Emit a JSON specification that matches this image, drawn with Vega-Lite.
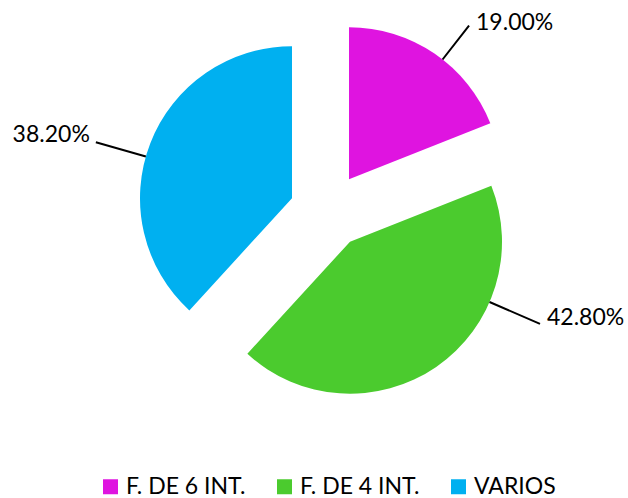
{
  "$schema": "https://vega.github.io/schema/vega-lite/v6.json",
  "width": 628,
  "height": 498,
  "autosize": {"type": "none"},
  "padding": 0,
  "background": "white",
  "config": {"view": {"stroke": null}, "text": {"font": "Lato", "fontSize": 23, "color": "black"}},
  "data": {"values": [
    {"cat": "F. DE 6 INT.", "value": 19.0, "label": "19.00%", "order": 1},
    {"cat": "F. DE 4 INT.", "value": 42.8, "label": "42.80%", "order": 2},
    {"cat": "VARIOS", "value": 38.2, "label": "38.20%", "order": 3}
  ]},
  "transform": [
    {"stack": "value", "groupby": [], "sort": [{"field": "order", "order": "ascending"}], "as": ["v0", "v1"]}
  ],
  "layer": [
    {
      "transform": [{"filter": "datum.cat === 'F. DE 6 INT.'"}],
      "mark": {"type": "arc", "radius": 152, "xOffset": 35, "yOffset": -69.7},
      "encoding": {
        "theta": {"field": "v0", "type": "quantitative", "scale": {"domain": [0, 100]}},
        "theta2": {"field": "v1"},
        "color": {"field": "cat", "type": "nominal",
          "scale": {"domain": ["F. DE 6 INT.", "F. DE 4 INT.", "VARIOS"], "range": ["#DF14E0", "#4BCB2E", "#00B0F0"]},
          "legend": {"orient": "none", "direction": "horizontal", "legendX": 99, "legendY": 475, "title": null,
            "symbolType": "square", "symbolSize": 225, "symbolStrokeWidth": 0, "labelFont": "Lato", "labelFontSize": 23,
            "labelColor": "black", "labelOffset": 4, "columnPadding": 27, "padding": 0}}
      }
    },
    {
      "transform": [{"filter": "datum.cat === 'F. DE 6 INT.'"}],
      "mark": {"type": "arc", "radius": 195, "radius2": 152, "thetaOffset": 0.663, "theta2Offset": 0.663, "filled": false, "color": "black", "strokeWidth": 2, "xOffset": 35, "yOffset": -69.7},
      "encoding": {
        "theta": {"field": "v0", "type": "quantitative"},
        "theta2": {"field": "v0"}
      }
    },
    {
      "transform": [{"filter": "datum.cat === 'F. DE 6 INT.'"}],
      "mark": {"type": "text", "radius": 195, "thetaOffset": 0.663, "align": "left", "baseline": "alphabetic", "dx": 7, "dy": 4, "xOffset": 35, "yOffset": -69.7},
      "encoding": {
        "theta": {"field": "v0", "type": "quantitative"},
        "text": {"field": "label"}
      }
    },
    {
      "transform": [{"filter": "datum.cat === 'F. DE 4 INT.'"}],
      "mark": {"type": "arc", "radius": 152, "xOffset": 36, "yOffset": -7.3},
      "encoding": {
        "theta": {"field": "v0", "type": "quantitative"},
        "theta2": {"field": "v1"},
        "color": {"field": "cat", "type": "nominal"}
      }
    },
    {
      "transform": [{"filter": "datum.cat === 'F. DE 4 INT.'"}],
      "mark": {"type": "arc", "radius": 207, "radius2": 152, "thetaOffset": 0.785, "theta2Offset": 0.785, "filled": false, "color": "black", "strokeWidth": 2, "xOffset": 36, "yOffset": -7.3},
      "encoding": {
        "theta": {"field": "v0", "type": "quantitative"},
        "theta2": {"field": "v0"}
      }
    },
    {
      "transform": [{"filter": "datum.cat === 'F. DE 4 INT.'"}],
      "mark": {"type": "text", "radius": 207, "thetaOffset": 0.785, "align": "left", "baseline": "alphabetic", "dx": 7, "dy": 1, "xOffset": 36, "yOffset": -7.3},
      "encoding": {
        "theta": {"field": "v0", "type": "quantitative"},
        "text": {"field": "label"}
      }
    },
    {
      "transform": [{"filter": "datum.cat === 'VARIOS'"}],
      "mark": {"type": "arc", "radius": 152, "xOffset": -22, "yOffset": -50.7},
      "encoding": {
        "theta": {"field": "v0", "type": "quantitative"},
        "theta2": {"field": "v1"},
        "color": {"field": "cat", "type": "nominal"}
      }
    },
    {
      "transform": [{"filter": "datum.cat === 'VARIOS'"}],
      "mark": {"type": "arc", "radius": 204, "radius2": 152, "thetaOffset": 1.1078, "theta2Offset": 1.1078, "filled": false, "color": "black", "strokeWidth": 2, "xOffset": -22, "yOffset": -50.7},
      "encoding": {
        "theta": {"field": "v0", "type": "quantitative"},
        "theta2": {"field": "v0"}
      }
    },
    {
      "transform": [{"filter": "datum.cat === 'VARIOS'"}],
      "mark": {"type": "text", "radius": 204, "thetaOffset": 1.1078, "align": "right", "baseline": "alphabetic", "dx": -6, "dy": 0, "xOffset": -22, "yOffset": -50.7},
      "encoding": {
        "theta": {"field": "v0", "type": "quantitative"},
        "text": {"field": "label"}
      }
    }
  ]
}
